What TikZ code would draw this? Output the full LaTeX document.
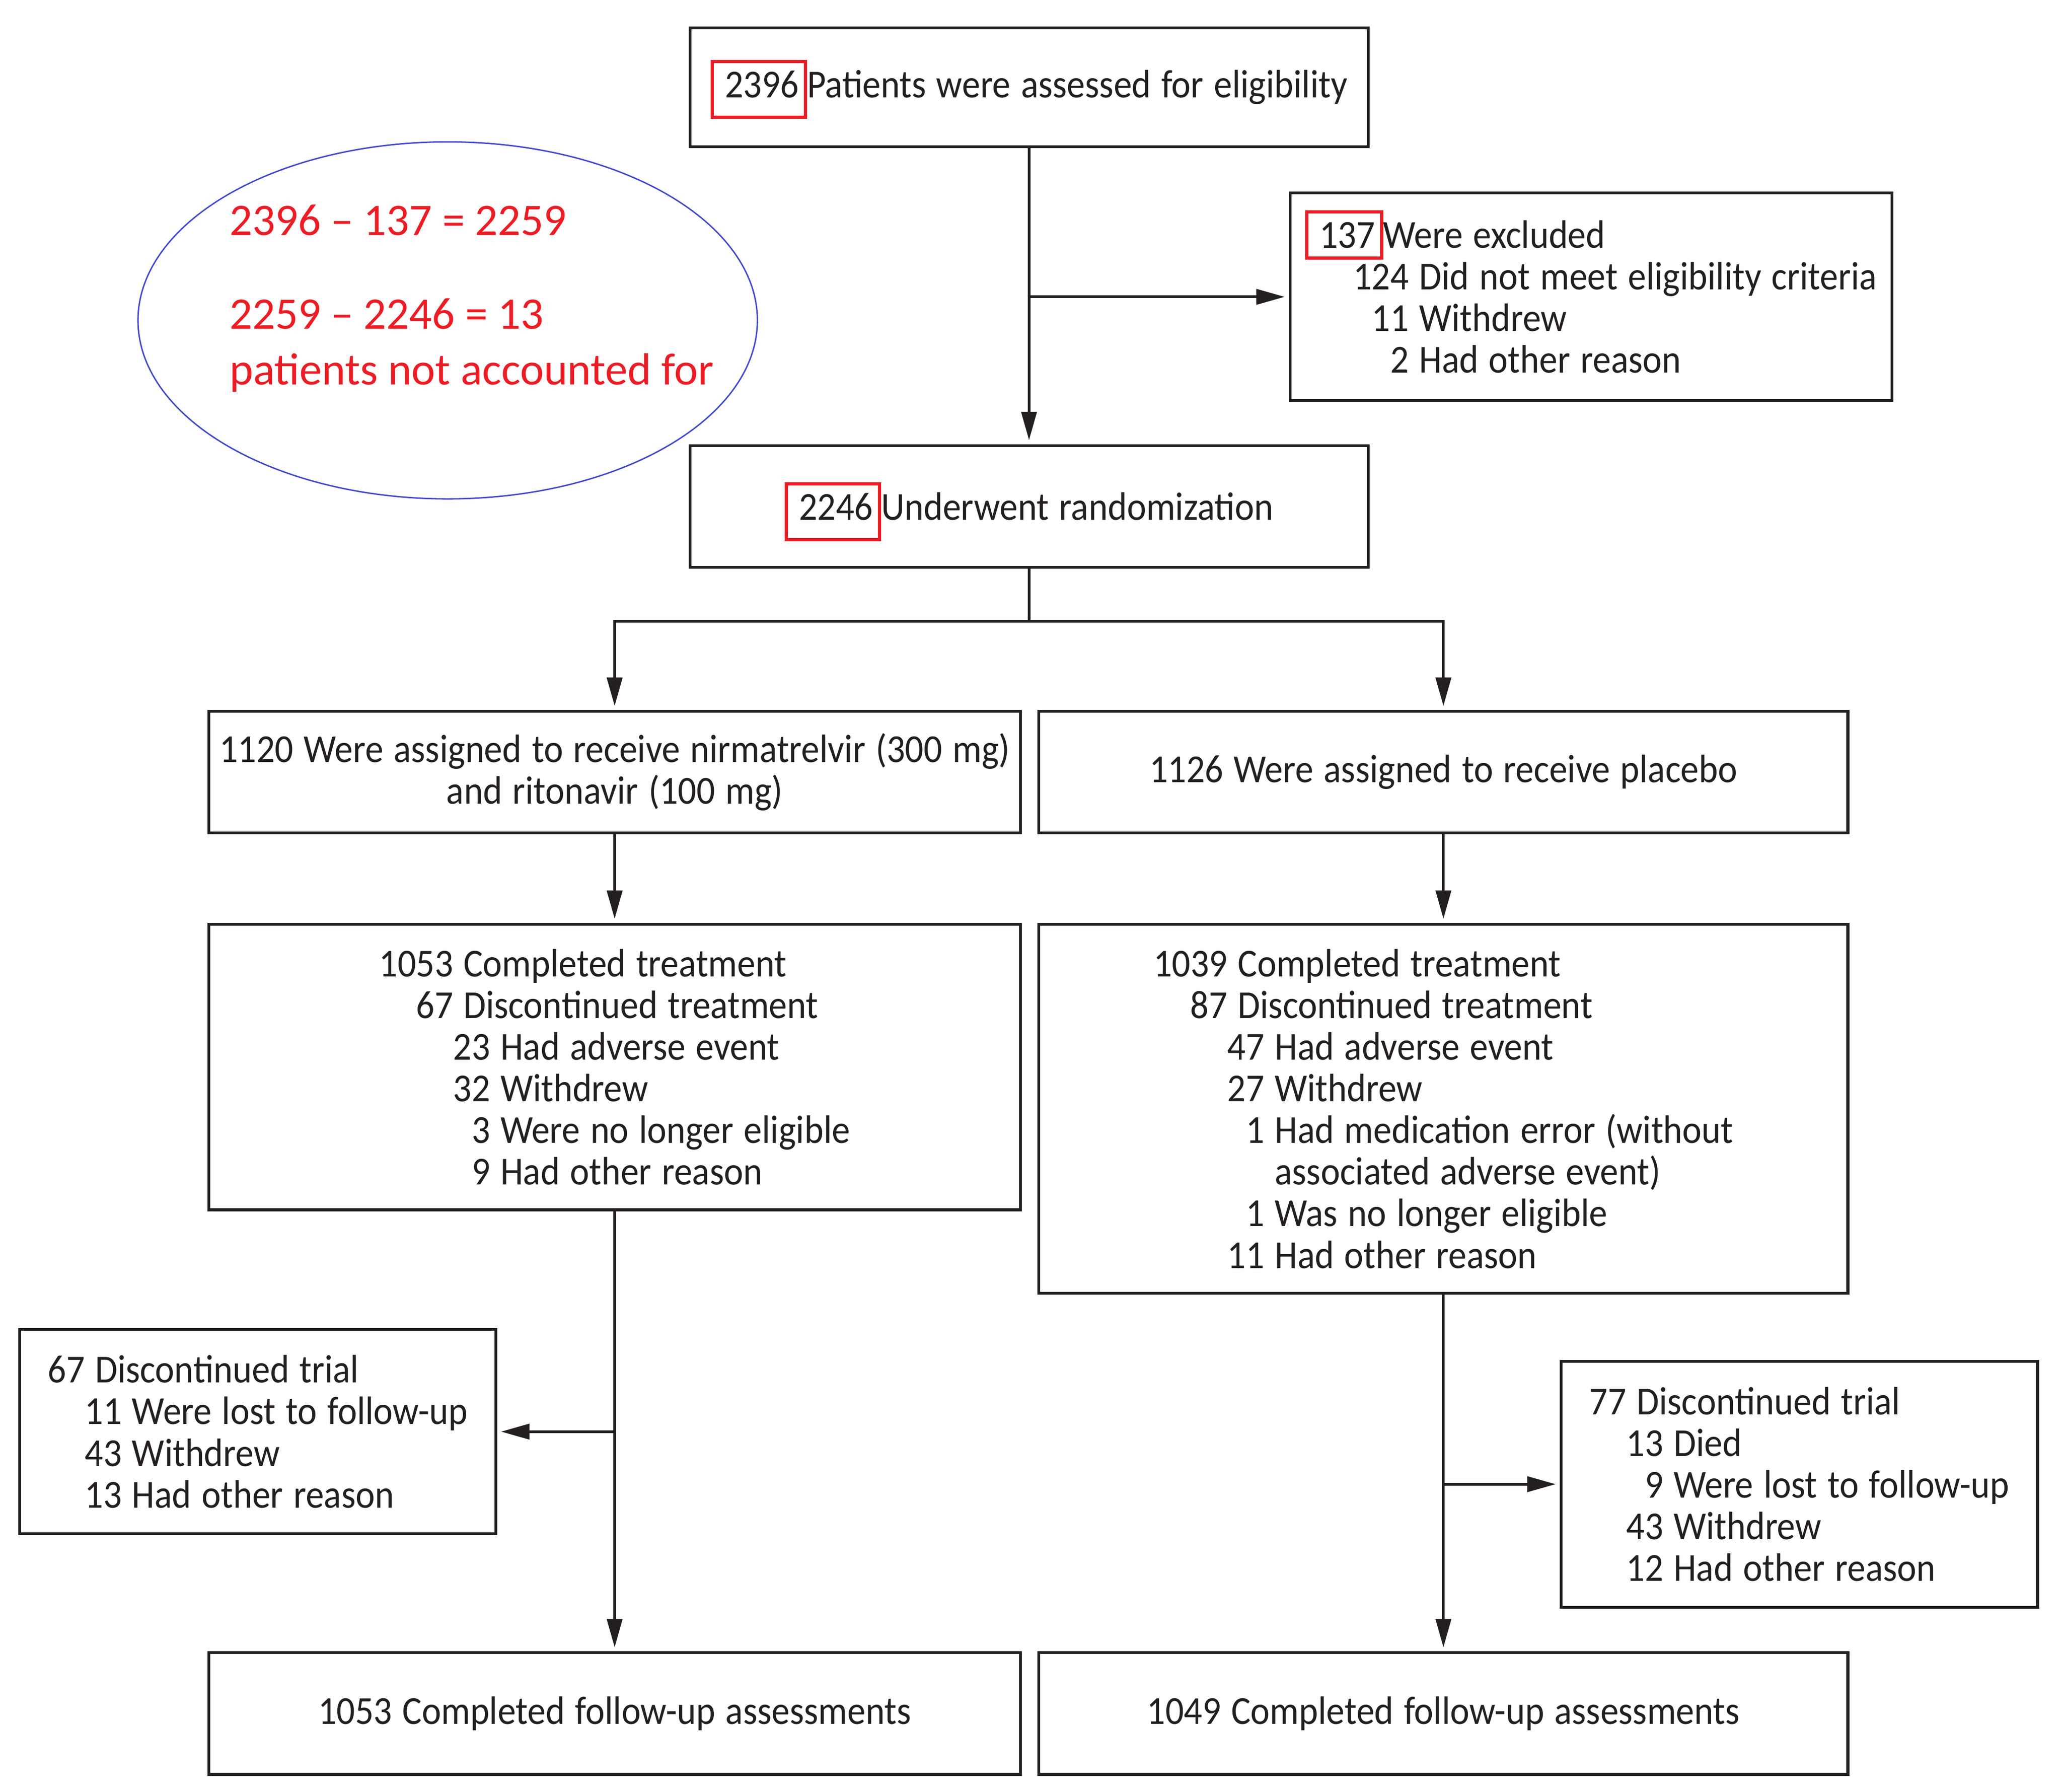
\documentclass[tikz,border=0pt]{standalone}
\usepackage{fontspec}
\usepackage{xcolor}
\setmainfont{Carlito}[FakeStretch=0.92, WordSpace=1.25]
\newfontfamily\notefont{Carlito}
\usepackage{tikz}
\usetikzlibrary{calc,arrows.meta}

\definecolor{nejmblack}{RGB}{35,31,32}
\definecolor{nejmred}{RGB}{237,28,36}
\definecolor{noteblue}{RGB}{64,72,208}

% number framed in red (optional depth below baseline), frame kept out of the line height
\newcommand{\rednum}[2][0.271cm]{\smash{{\setlength{\fboxrule}{1.42pt}\setlength{\fboxsep}{0pt}%
	\fcolorbox{nejmred}{white}{\hspace{0.165cm}\rule[-#1]{0pt}{\dimexpr0.52cm+#1\relax}#2\hspace{0.075cm}}}}}
% row: number right-aligned on a column #1 digits wide, then its text
\newcommand{\rw}[3]{\setbox0\hbox{0}\makebox[#1\wd0][r]{#2}\ #3}

\tikzset{
	box/.style={draw=nejmblack, line width=1.2pt, text=nejmblack, inner sep=0pt, align=left,
		font={\fontsize{17.07pt}{17.93pt}\selectfont}},
	flow/.style={->, line width=1.2pt, draw=nejmblack, shorten >=0.06cm},
	trunk/.style={line width=1.2pt, draw=nejmblack},
	note/.style={anchor=base west, inner sep=0pt, text=nejmred,
		font={\notefont\fontsize{19.4pt}{23.9pt}\selectfont}}
}

\begin{document}
\begin{tikzpicture}[>={Triangle[length=4.3mm,width=2.3mm]}]
	\useasboundingbox (0,0) rectangle (31.2,-27.106);

	%top boxes
	\node[box, minimum width=10.26cm, minimum height=1.80cm] (assess) at (15.57,-1.32)
		{\rednum{2396}Patients were assessed for eligibility};
	\node[box, minimum width=9.11cm, minimum height=3.14cm] (excluded) at (24.075,-4.49)
		{\rednum[0.125cm]{137}Were excluded\\
		 \rw{5.6}{124}{Did not meet eligibility criteria}\\
		 \rw{5.6}{11}{Withdrew}\\
		 \rw{5.6}{2}{Had other reason}};
	\node[box, minimum width=10.26cm, minimum height=1.84cm] (random) at (15.57,-7.66)
		{\rednum{2246}Underwent randomization};

	%arms
	\node[box, align=center, minimum width=12.28cm, minimum height=1.84cm] (armN) at (9.30,-11.68)
		{1120 Were assigned to receive nirmatrelvir (300 mg)\\and ritonavir (100 mg)};
	\node[box, align=center, minimum width=12.24cm, minimum height=1.84cm] (armP) at (21.84,-11.68)
		{1126 Were assigned to receive placebo};

	%treatment
	\node[box, minimum width=12.28cm, minimum height=4.32cm] (treatN) at (9.30,-16.14)
		{\rw{4}{1053}{Completed treatment}\\
		 \rw{4}{67}{Discontinued treatment}\\
		 \rw{6}{23}{Had adverse event}\\
		 \rw{6}{32}{Withdrew}\\
		 \rw{6}{3}{Were no longer eligible}\\
		 \rw{6}{9}{Had other reason}};
	\node[box, minimum width=12.24cm, minimum height=5.58cm] (treatP) at (21.84,-16.77)
		{\rw{4}{1039}{Completed treatment}\\
		 \rw{4}{87}{Discontinued treatment}\\
		 \rw{6}{47}{Had adverse event}\\
		 \rw{6}{27}{Withdrew}\\
		 \rw{6}{1}{Had medication error (without}\\
		 \rw{6}{}{associated adverse event)}\\
		 \rw{6}{1}{Was no longer eligible}\\
		 \rw{6}{11}{Had other reason}};

	%discontinued trial
	\node[box, minimum width=7.20cm, minimum height=3.09cm] (discN) at (3.90,-21.655)
		{\rw{2}{67}{Discontinued trial}\\
		 \rw{4}{11}{Were lost to follow-up}\\
		 \rw{4}{43}{Withdrew}\\
		 \rw{4}{13}{Had other reason}};
	\node[box, minimum width=7.21cm, minimum height=3.72cm] (discP) at (27.225,-22.45)
		{\rw{2}{77}{Discontinued trial}\\
		 \rw{4}{13}{Died}\\
		 \rw{4}{9}{Were lost to follow-up}\\
		 \rw{4}{43}{Withdrew}\\
		 \rw{4}{12}{Had other reason}};

	%follow-up
	\node[box, minimum width=12.28cm, minimum height=1.84cm] (fuN) at (9.30,-25.92)
		{1053 Completed follow-up assessments};
	\node[box, minimum width=12.24cm, minimum height=1.84cm] (fuP) at (21.84,-25.92)
		{1049 Completed follow-up assessments};

	%arrows
	\draw[flow] (assess.south) -- (random.north);
	\draw[flow] (assess.south |- excluded.west) -- (excluded.west);
	\coordinate (split) at (15.57,-9.40);
	\draw[trunk] (random.south) -- (split);
	\draw[flow] (split) -| (armN.north);
	\draw[flow] (split) -| (armP.north);
	\draw[flow] (armN.south) -- (treatN.north);
	\draw[flow] (armP.south) -- (treatP.north);
	\draw[flow] (treatN.south) -- (fuN.north);
	\draw[flow] (treatN.south |- discN.east) -- (discN.east);
	\draw[flow] (treatP.south) -- (fuP.north);
	\draw[flow] (treatP.south |- discP.west) -- (discP.west);

	%annotation
	\draw[noteblue, line width=0.6pt] (6.774,-4.846) ellipse [x radius=4.686, y radius=2.70];
	\node[note] (calcA) at (3.466,-3.56) {2396 – 137 = 2259};
	\node[note] (calcB) at (3.466,-4.972) {2259 – 2246 = 13};
	\node[note] (calcC) at (3.466,-5.818) {patients not accounted for};
\end{tikzpicture}
\end{document}
